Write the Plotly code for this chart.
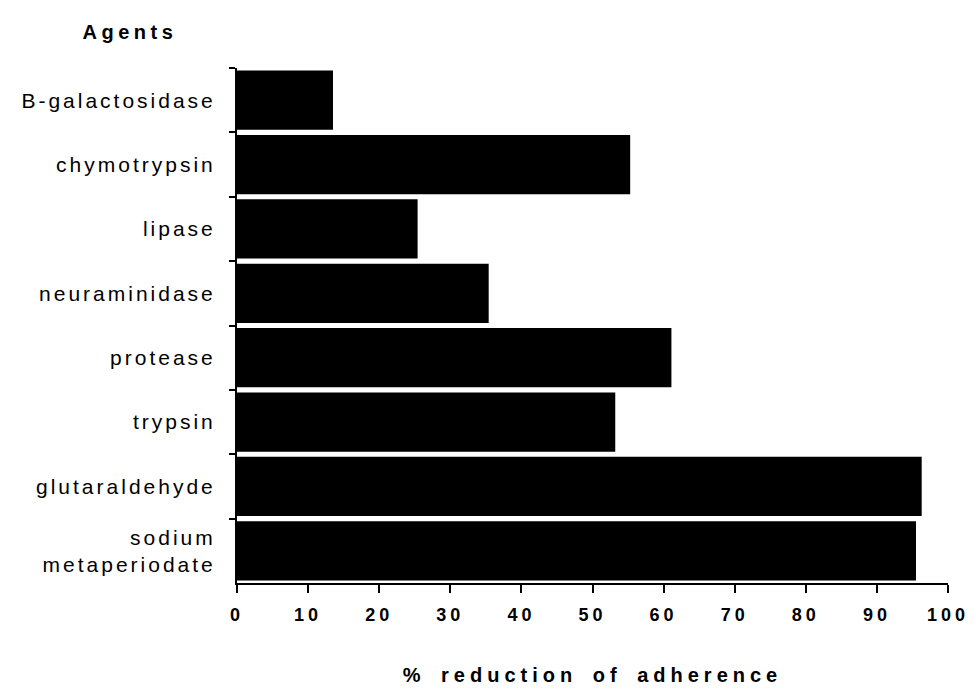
import plotly.graph_objects as go

# ---- data ----
agents = ["B-galactosidase", "chymotrypsin", "lipase", "neuraminidase",
          "protease", "trypsin", "glutaraldehyde", "sodium<br>metaperiodate"]
reduction = [13.5, 55.3, 25.4, 35.4, 61.1, 53.2, 96.3, 95.5]
x_tick_vals = [0, 10, 20, 30, 40, 50, 60, 70, 80, 90, 100]
x_tick_text = ["0", "10", "20", "30", "40", "50", "60", "70", "80", "90", "100"]

FONT = "Liberation Sans, Arial, Helvetica, sans-serif"

fig = go.Figure(
    go.Bar(
        x=reduction,
        y=agents,
        orientation="h",
        marker=dict(color="black", line=dict(width=0)),
        hoverinfo="x+y",
    )
)

fig.update_layout(
    width=976,
    height=695,
    margin=dict(l=237, r=28, t=68, b=108),
    plot_bgcolor="white",
    paper_bgcolor="white",
    showlegend=False,
    bargap=0.08,
    font=dict(family=FONT, color="black"),
)

fig.update_yaxes(
    type="category",
    autorange="reversed",
    showline=True,
    linecolor="black",
    linewidth=2,
    ticks="outside",
    ticklen=6,
    tickwidth=2,
    tickcolor="black",
    tickson="boundaries",
    showgrid=False,
    tickfont=dict(size=21, family=FONT, color="black"),
    ticklabelstandoff=15,
)

fig.update_xaxes(
    range=[0, 100],
    tickvals=x_tick_vals,
    ticktext=x_tick_text,
    showline=True,
    linecolor="black",
    linewidth=2,
    ticks="outside",
    ticklen=8,
    tickwidth=2,
    tickcolor="black",
    showgrid=False,
    zeroline=False,
    ticklabelstandoff=6,
    tickfont=dict(size=18, family=FONT, color="black", weight="bold"),
    title=dict(
        text="% reduction of adherence",
        font=dict(size=20, family=FONT, color="black", weight="bold"),
        standoff=44,
    ),
)

fig.add_annotation(
    text="Agents",
    xref="paper", yref="paper",
    x=-0.15, y=1.069,
    xanchor="center", yanchor="middle",
    showarrow=False,
    font=dict(size=20, family=FONT, color="black", weight="bold"),
)

css = (
    "html,body{margin:0;padding:0;overflow:hidden;}"
    ".ytick text{letter-spacing:3px;}"
    ".xtick text{letter-spacing:4px;}"
    ".xtitle{letter-spacing:5px;word-spacing:5px;}"
    ".annotation-text{letter-spacing:4.5px;}"
)
post = (
    "var s=document.createElement('style');"
    "s.textContent=" + repr(css) + ";"
    "document.head.appendChild(s);"
)

fig.write_html("out.html", post_script=post, config={"displayModeBar": False})
